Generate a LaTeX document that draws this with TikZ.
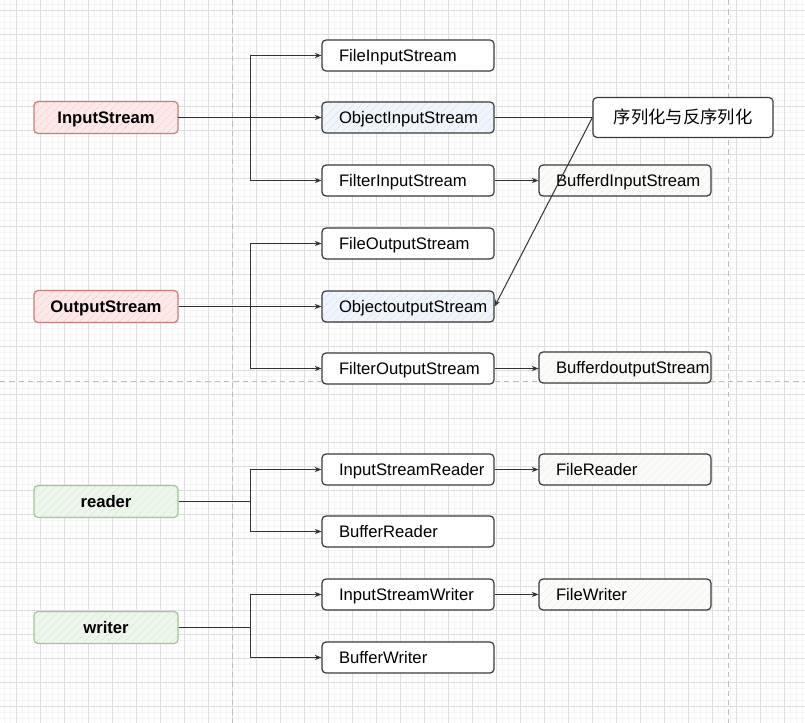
\documentclass[tikz,border=0pt]{standalone}
\usepackage{fontspec}
\setmainfont{Liberation Sans}
\newfontfamily\cjk{Noto Sans CJK SC}
\usetikzlibrary{arrows.meta,patterns.meta}
\definecolor{gridmaj}{HTML}{DEDEDE}
\definecolor{gridmin}{HTML}{F4F4F4}
\definecolor{pagedash}{HTML}{BDBDBD}
\definecolor{linec}{HTML}{333333}
\definecolor{boxborder}{HTML}{3A3A3A}
\definecolor{redfill}{HTML}{FBEAE9}
\definecolor{redhatch}{HTML}{F4D0CE}
\definecolor{redborder}{HTML}{C97D7A}
\definecolor{greenfill}{HTML}{EDF6EA}
\definecolor{greenhatch}{HTML}{D8EAD3}
\definecolor{greenborder}{HTML}{9DC891}
\definecolor{bluefill}{HTML}{F0F4FB}
\definecolor{bluehatch}{HTML}{DAE4F4}
\definecolor{palefill}{HTML}{FBFBF9}
\definecolor{palehatch}{HTML}{EFEFE9}
\tikzset{
  basebox/.style={rounded corners=3pt, line width=0.9pt, inner sep=0pt,
    text height=9.6pt, text depth=1pt,
    font=\fontsize{12.5pt}{14pt}\selectfont},
  rootbox/.style={basebox, minimum width=108pt, minimum height=24pt,
    font=\fontsize{12.5pt}{14pt}\selectfont\bfseries},
  redbox/.style={rootbox, draw=redborder,
    preaction={fill=redfill},
    pattern={Lines[angle=45,distance=4pt,line width=0.45pt]}, pattern color=redhatch},
  greenbox/.style={rootbox, draw=greenborder,
    preaction={fill=greenfill},
    pattern={Lines[angle=45,distance=4pt,line width=0.45pt]}, pattern color=greenhatch},
  classbox/.style={basebox, draw=boxborder, fill=white, minimum width=129pt,
    minimum height=23.25pt, text width=103.5pt, align=left, inner xsep=12.75pt},
  bluebox/.style={classbox, preaction={fill=bluefill},
    pattern={Lines[angle=45,distance=4pt,line width=0.45pt]}, pattern color=bluehatch},
  palebox/.style={classbox, preaction={fill=palefill},
    pattern={Lines[angle=45,distance=4pt,line width=0.45pt]}, pattern color=palehatch},
  notebox/.style={basebox, draw=boxborder, fill=white, minimum width=135pt,
    minimum height=30pt, text height=11pt, text depth=1.6pt,
    font=\fontsize{13pt}{15pt}\selectfont},
  conn/.style={draw=linec, line width=0.75pt},
  arr/.style={conn, -{Stealth[length=5pt,width=4pt]}},
}
\begin{document}
\begin{tikzpicture}[x=0.75pt,y=-0.75pt]
\useasboundingbox (0,0) rectangle (805,723);
\fill[white] (0,0) rectangle (805,723);
% grid
\foreach \gx in {4,10,...,802} \draw[gridmin,line width=0.5pt] (\gx,0) -- (\gx,723);
\foreach \gy in {4,10,...,722} \draw[gridmin,line width=0.5pt] (0,\gy) -- (805,\gy);
\foreach \gx in {16,40,...,796} \draw[gridmaj,line width=0.6pt] (\gx,0) -- (\gx,723);
\foreach \gy in {10,34,...,706} \draw[gridmaj,line width=0.6pt] (0,\gy) -- (805,\gy);
% page breaks
\draw[pagedash,line width=0.6pt,dash pattern=on 4pt off 3pt] (232,0) -- (232,723);
\draw[pagedash,line width=0.6pt,dash pattern=on 4pt off 3pt] (728,0) -- (728,723);
\draw[pagedash,line width=0.6pt,dash pattern=on 4pt off 3pt] (0,381) -- (805,381);

% root nodes
\node[redbox] (IS) at (106,117.5) {InputStream};
\node[redbox] (OS) at (106,306.5) {OutputStream};
\node[greenbox] (RD) at (106,501.5) {reader};
\node[greenbox] (WR) at (106,627.5) {writer};

% second column
\node[classbox] (FIS) at (408,55.5) {\mbox{FileInputStream}};
\node[bluebox] (OIS) at (408,117.5) {\mbox{ObjectInputStream}};
\node[classbox] (FiIS) at (408,180.5) {\mbox{FilterInputStream}};
\node[classbox] (FOS) at (408,243.5) {\mbox{FileOutputStream}};
\node[bluebox] (OOS) at (408,306.5) {\mbox{ObjectoutputStream}};
\node[classbox] (FiOS) at (408,368.5) {\mbox{FilterOutputStream}};
\node[classbox] (ISR) at (408,469.5) {\mbox{InputStreamReader}};
\node[classbox] (BR) at (408,531.5) {\mbox{BufferReader}};
\node[classbox] (ISW) at (408,594.5) {\mbox{InputStreamWriter}};
\node[classbox] (BW) at (408,657.5) {\mbox{BufferWriter}};

% third column
\node[palebox] (BIS) at (625,180.5) {\mbox{BufferdInputStream}};
\node[palebox] (BOS) at (625,367.5) {\mbox{BufferdoutputStream}};
\node[palebox] (FR) at (625,469.5) {\mbox{FileReader}};
\node[palebox] (FW) at (625,594.5) {\mbox{FileWriter}};
\node[notebox] (SER) at (683,117.5) {\cjk 序列化与反序列化};

% branch points
\coordinate (jIS) at (250,117.5);
\coordinate (jOS) at (250,306.5);
\coordinate (jRD) at (250,501.5);
\coordinate (jWR) at (250,627.5);

\draw[arr] (IS.east) -- (jIS) |- (FIS.west);
\draw[arr] (IS.east) -- (OIS.west);
\draw[arr] (IS.east) -- (jIS) |- (FiIS.west);
\draw[arr] (OS.east) -- (jOS) |- (FOS.west);
\draw[arr] (OS.east) -- (OOS.west);
\draw[arr] (OS.east) -- (jOS) |- (FiOS.west);
\draw[arr] (RD.east) -- (jRD) |- (ISR.west);
\draw[arr] (RD.east) -- (jRD) |- (BR.west);
\draw[arr] (WR.east) -- (jWR) |- (ISW.west);
\draw[arr] (WR.east) -- (jWR) |- (BW.west);

\draw[arr] (FiIS.east) -- (BIS.west);
\draw[arr] (FiOS.east) -- (FiOS.east -| BOS.west);
\draw[arr] (ISR.east) -- (FR.west);
\draw[arr] (ISW.east) -- (FW.west);

\draw[conn] (OIS.east) -- (SER.west);
\draw[arr] (SER.west) -- (OOS.east);
\end{tikzpicture}
\end{document}
